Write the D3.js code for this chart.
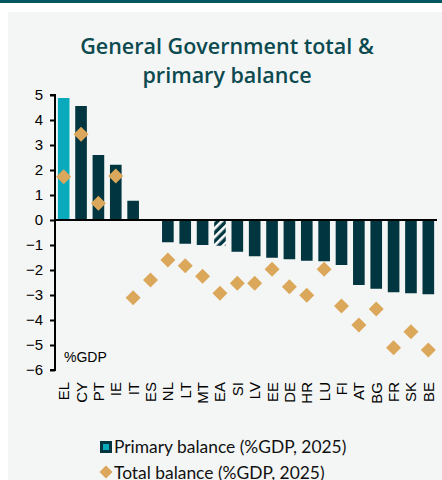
<!DOCTYPE html>
<html>
<head>
<meta charset="utf-8">
<script src="https://cdn.jsdelivr.net/npm/d3@7/dist/d3.min.js"></script>
<style>
  html, body { margin: 0; padding: 0; background: #ffffff; }
  svg { display: block; }
</style>
</head>
<body>
<svg id="chart" width="442" height="480"></svg>
<script>
// Country codes, in display order
const countries = ["EL","CY","PT","IE","IT","ES","NL","LT","MT","EA","SI","LV","EE","DE","HR","LU","FI","AT","BG","FR","SK","BE"];
// Primary balance, %GDP 2025
const primaryBalance = [4.88,4.56,2.6,2.21,0.77,0,-0.89,-0.95,-1.0,-1.03,-1.27,-1.45,-1.51,-1.57,-1.63,-1.65,-1.8,-2.6,-2.75,-2.89,-2.93,-2.97];
// Total balance, %GDP 2025
const totalBalance = [1.73,3.43,0.67,1.76,-3.11,-2.4,-1.6,-1.83,-2.25,-2.93,-2.53,-2.53,-1.97,-2.67,-3.01,-1.97,-3.44,-4.2,-3.56,-5.11,-4.47,-5.2];
const yTicks = [5,4,3,2,1,0,-1,-2,-3,-4,-5,-6];
const titleLines = ["General Government total &", "primary balance"];
const legendLabels = ["Primary balance (%GDP, 2025)", "Total balance (%GDP, 2025)"];

const svg = d3.select("#chart");
const W = 442, H = 480;
const dark = "#01353f", cyan = "#0aaabd", gold = "#dba75a";

// top banner strip and panel background
svg.append("rect").attr("x",0).attr("y",0).attr("width",W).attr("height",3).attr("fill","#03575f");
svg.append("rect").attr("x",8).attr("y",12).attr("width",W-8).attr("height",H-12).attr("fill","#f4f6f5");

// hatch pattern for the euro-area bar
const defs = svg.append("defs");
const pat = defs.append("pattern").attr("id","hatch").attr("patternUnits","userSpaceOnUse")
  .attr("width",6).attr("height",6).attr("patternTransform","rotate(45)");
pat.append("rect").attr("width",6).attr("height",6).attr("fill",dark);
pat.append("rect").attr("x",0).attr("width",2.6).attr("height",6).attr("fill","#ffffff");

// title
const title = svg.append("text").attr("text-anchor","middle")
  .attr("font-family","'Open Sans', Lato, sans-serif").attr("font-size",21.5).attr("font-weight",600)
  .attr("fill","#0c4a50");
titleLines.forEach((t,i) => title.append("tspan").attr("x",227).attr("y",54 + i*29).text(t));

const x = d3.scaleBand().domain(countries).range([55,437]).paddingInner(0.33).paddingOuter(0.165);
const y = d3.scaleLinear().domain([-6,5]).range([370,95]);

// bars
svg.append("g").selectAll("rect").data(countries).join("rect")
  .attr("x", d => x(d))
  .attr("width", x.bandwidth())
  .attr("y", (d,i) => y(Math.max(0, primaryBalance[i])))
  .attr("height", (d,i) => Math.abs(y(primaryBalance[i]) - y(0)))
  .attr("fill", (d,i) => d === "EL" ? cyan : d === "EA" ? "url(#hatch)" : dark);

// y axis
const yAxis = svg.append("g").attr("transform","translate(55,0)")
  .call(d3.axisLeft(y).tickValues(yTicks).tickSize(5).tickPadding(7).tickFormat(d3.format("d")));
yAxis.select(".domain").attr("stroke","#000").attr("stroke-width",2).attr("d","M-5,95H0V370H-5");
yAxis.selectAll(".tick line").attr("stroke","#000").attr("stroke-width",2);
yAxis.selectAll(".tick text").attr("font-family","'Liberation Sans', Arial, sans-serif").attr("font-size",15).attr("fill","#000");

// zero line
svg.append("line").attr("x1",55).attr("x2",437).attr("y1",y(0)).attr("y2",y(0))
  .attr("stroke","#000").attr("stroke-width",2);

// diamonds for total balance
const dsize = 7.5;
svg.append("g").selectAll("path").data(countries).join("path")
  .attr("transform",(d,i) => `translate(${x(d) + x.bandwidth()/2},${y(totalBalance[i])})`)
  .attr("d", `M0,${-dsize}L${dsize},0L0,${dsize}L${-dsize},0Z`)
  .attr("fill", gold);

// category labels, rotated
svg.append("g").selectAll("text").data(countries).join("text")
  .attr("transform", d => `translate(${x(d) + x.bandwidth()/2 + 5.5},382) rotate(-90)`)
  .attr("text-anchor","end")
  .attr("font-family","'Liberation Sans', Arial, sans-serif").attr("font-size",15).attr("fill","#000")
  .text(d => d);

// unit label
svg.append("text").attr("x",64).attr("y",362)
  .attr("font-family","'Liberation Sans', Arial, sans-serif").attr("font-size",14).attr("fill","#000")
  .text("%GDP");

// legend
const lg = svg.append("g").attr("font-family","Lato, 'Open Sans', sans-serif").attr("font-size",17.4).attr("fill","#111");
lg.append("rect").attr("x",100).attr("y",441).attr("width",12).attr("height",12).attr("fill",dark);
lg.append("rect").attr("x",103).attr("y",444).attr("width",6).attr("height",6).attr("fill",cyan);
lg.append("text").attr("x",114).attr("y",453).text(legendLabels[0]);
lg.append("path").attr("transform","translate(106,472)").attr("d","M0,-6.5L6.5,0L0,6.5L-6.5,0Z").attr("fill",gold);
lg.append("text").attr("x",114).attr("y",479).text(legendLabels[1]);
</script>
</body>
</html>
